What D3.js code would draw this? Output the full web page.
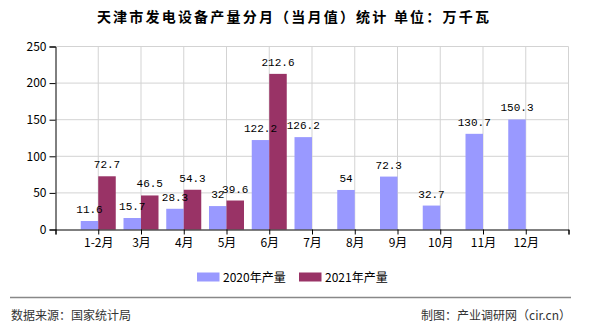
<!DOCTYPE html>
<html><head><meta charset="utf-8">
<script src="https://cdn.jsdelivr.net/npm/d3@7"></script>
<style>body{margin:0;background:#fff}svg{display:block}</style>
</head><body>
<script>
const categories = ["1-2月","3月","4月","5月","6月","7月","8月","9月","10月","11月","12月"];
const values2020 = [11.6,15.7,28.3,32,122.2,126.2,54,72.3,32.7,130.7,150.3];
const values2021 = [72.7,46.5,54.3,39.6,212.6,null,null,null,null,null,null];
const seriesNames = ["2020年产量","2021年产量"];
const yTicks = [0,50,100,150,200,250];
const colors = ["#9999FF","#993366"];

const W=590,H=330;
const svg=d3.select("body").append("svg").attr("width",W).attr("height",H);
const cjk='"Noto Sans CJK SC","Noto Sans",sans-serif';
const mono='"Liberation Mono","DejaVu Sans Mono",monospace';

const x=d3.scaleLinear().domain([0,categories.length+1]).range([55.5,568.5]);
const y=d3.scaleLinear().domain([0,250]).range([229.5,46.5]);
const barW=17.5;

// title
svg.append("text").attr("x",294).attr("y",22).attr("text-anchor","middle")
  .style("font-family",cjk).style("font-size","14px").style("font-weight","bold")
  .style("letter-spacing","2.2px").text("天津市发电设备产量分月（当月值）统计 单位：万千瓦");

// grid
const g=svg.append("g");
g.selectAll(".hg").data(yTicks.filter(d=>d>0)).join("line")
  .attr("x1",x(0)).attr("x2",x(12)).attr("y1",d=>y(d)).attr("y2",d=>y(d))
  .attr("stroke","#d3d3d3").attr("stroke-width",1);
g.selectAll(".vg").data(d3.range(1,13)).join("line")
  .attr("x1",d=>x(d)).attr("x2",d=>x(d)).attr("y1",y(250)).attr("y2",y(0))
  .attr("stroke","#d3d3d3").attr("stroke-width",1);

// bars
const idx=d3.range(categories.length);
svg.append("g").selectAll("rect").data(idx).join("rect")
  .attr("x",i=>x(i+1)-barW).attr("width",barW)
  .attr("y",i=>y(values2020[i])).attr("height",i=>y(0)-y(values2020[i]))
  .attr("fill",colors[0]);
svg.append("g").selectAll("rect").data(idx.filter(i=>values2021[i]!=null)).join("rect")
  .attr("x",i=>x(i+1)).attr("width",barW)
  .attr("y",i=>y(values2021[i])).attr("height",i=>y(0)-y(values2021[i]))
  .attr("fill",colors[1]);

// value labels
const lab=svg.append("g").style("font-family",mono).style("font-size","11px").attr("text-anchor","middle");
lab.selectAll(".a").data(idx).join("text")
  .attr("x",i=>x(i+1)-barW/2).attr("y",i=>y(values2020[i])-8).text(i=>values2020[i]);
lab.selectAll(".b").data(idx.filter(i=>values2021[i]!=null)).join("text")
  .attr("x",i=>x(i+1)+barW/2).attr("y",i=>y(values2021[i])-8).text(i=>values2021[i]);

// axes
const xa=svg.append("g").attr("transform",`translate(0,${y(0)})`)
  .call(d3.axisBottom(x).tickValues(d3.range(0,13)).tickSize(5).tickPadding(4)
    .tickFormat(d=>(d>=1&&d<=categories.length)?categories[d-1]:""));
const ya=svg.append("g").attr("transform",`translate(${x(0)},0)`)
  .call(d3.axisLeft(y).tickValues(yTicks).tickSize(6).tickPadding(3).tickFormat(d3.format("d")));
[xa,ya].forEach(a=>{a.select(".domain").attr("stroke","#000");
  a.selectAll(".tick line").attr("stroke","#000");
  a.selectAll("text").style("font-family",cjk).style("font-size","12px").attr("fill","#000");});

// legend
const leg=svg.append("g").style("font-family",cjk).style("font-size","12px");
const lx=[197,299];
seriesNames.forEach((n,i)=>{
  leg.append("rect").attr("x",lx[i]).attr("y",272.5).attr("width",22.5).attr("height",9).attr("fill",colors[i]);
  leg.append("text").attr("x",lx[i]+26).attr("y",282).text(n);
});

// footer
svg.append("line").attr("x1",10).attr("x2",571).attr("y1",297.5).attr("y2",297.5).attr("stroke","#888").attr("stroke-width",1.5);
svg.append("text").attr("x",11).attr("y",320).style("font-family",cjk).style("font-size","12px").attr("fill","#333").text("数据来源：国家统计局");
svg.append("text").attr("x",571).attr("y",320).attr("text-anchor","end").style("font-family",cjk).style("font-size","12px").attr("fill","#333").text("制图：产业调研网（cir.cn）");
</script>
</body></html>
